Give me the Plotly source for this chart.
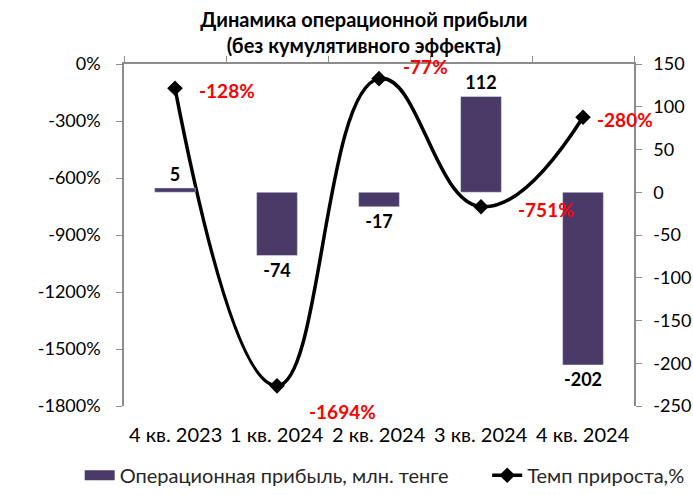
import plotly.graph_objects as go

quarters = ["4 кв. 2023", "1 кв. 2024", "2 кв. 2024", "3 кв. 2024", "4 кв. 2024"]
profit = [5, -74, -17, 112, -202]
growth = [-128, -1694, -77, -751, -280]
growth_labels = ["-128%", "-1694%", "-77%", "-751%", "-280%"]

left_ticks = [0, -300, -600, -900, -1200, -1500, -1800]
left_ticktext = ["0%", "-300%", "-600%", "-900%", "-1200%", "-1500%", "-1800%"]
right_ticks = [150, 100, 50, 0, -50, -100, -150, -200, -250]
right_ticktext = ["150", "100", "50", "0", "-50", "-100", "-150", "-200", "-250"]

FONT = "Lato, 'Open Sans', sans-serif"
BAR_COLOR = "#4a3a68"
AXIS_COLOR = "#8c8c8c"

fig = go.Figure()

# bars on right axis
fig.add_trace(go.Bar(
    x=quarters, y=profit,
    name="Операционная прибыль, млн. тенге",
    marker=dict(color=BAR_COLOR),
    width=0.4,
    yaxis="y2",
    text=[str(v) for v in profit],
    textposition="outside",
    textfont=dict(size=18, color="black", family=FONT, weight="bold"),
    cliponaxis=False,
    showlegend=False,
))

# legend entry for the bars: wide flat swatch like the original
fig.add_trace(go.Scatter(
    x=[None], y=[None], mode="lines",
    name="Операционная прибыль, млн. тенге",
    line=dict(color=BAR_COLOR, width=13),
    legend="legend",
))

# growth line on left axis
fig.add_trace(go.Scatter(
    x=quarters, y=growth,
    name="Темп прироста,%",
    mode="lines+markers",
    line=dict(color="black", width=3.5, shape="spline", smoothing=1.3),
    marker=dict(symbol="diamond", size=12, color="black"),
    yaxis="y",
    cliponaxis=False,
    legend="legend2",
))

# red labels for growth values (left edge offset from the point)
shifts = [(22, -2), (30, -26), (22, 12), (35, -3), (12, -2)]
for q, v, lab, (dx, dy) in zip(quarters, growth, growth_labels, shifts):
    fig.add_annotation(
        x=q, y=v, xref="x", yref="y", xanchor="left",
        text="<b>" + lab + "</b>", showarrow=False,
        xshift=dx, yshift=dy,
        font=dict(size=19, color="#ff0000", family=FONT),
    )

# category labels at the bottom (the category axis line sits on top)
for q in quarters:
    fig.add_annotation(
        x=q, y=0, xref="x", yref="paper", yanchor="top",
        text=q, showarrow=False, yshift=-14,
        font=dict(size=20, color="black", family=FONT),
    )

fig.update_layout(
    width=693, height=495,
    margin=dict(l=124, r=59, t=64, b=89, autoexpand=False),
    paper_bgcolor="white", plot_bgcolor="white",
    font=dict(family=FONT, size=18, color="#262626"),
    title=dict(
        text="<b>Динамика операционной прибыли<br>(без кумулятивного эффекта)</b>",
        x=0.525, xanchor="center", xref="container",
        y=0.946, yanchor="top", yref="container",
        font=dict(size=20, color="black", family=FONT),
    ),
    showlegend=True,
    legend=dict(
        orientation="h", xref="container", yref="container",
        x=0.115, xanchor="left", y=0.04, yanchor="middle",
        font=dict(size=20, color="#262626", family=FONT),
        itemwidth=30,
    ),
    legend2=dict(
        orientation="h", xref="container", yref="container",
        x=0.703, xanchor="left", y=0.04, yanchor="middle",
        font=dict(size=20, color="#262626", family=FONT),
        itemwidth=30,
    ),
    xaxis=dict(
        type="category", side="top", range=[-0.5, 4.5],
        showline=True, linecolor=AXIS_COLOR, linewidth=1.5,
        ticks="outside", tickson="boundaries", ticklen=6, tickcolor=AXIS_COLOR,
        showticklabels=False, showgrid=False,
    ),
    yaxis=dict(
        range=[-1800, 0], tickvals=left_ticks, ticktext=left_ticktext,
        showline=True, linecolor=AXIS_COLOR, linewidth=1.5,
        ticks="outside", ticklen=6, tickcolor=AXIS_COLOR,
        ticklabelstandoff=12,
        showgrid=False, zeroline=False,
        tickfont=dict(size=18, color="black"),
    ),
    yaxis2=dict(
        range=[-250, 150], tickvals=right_ticks, ticktext=right_ticktext,
        overlaying="y", side="right",
        showline=True, linecolor=AXIS_COLOR, linewidth=1.5,
        ticks="outside", ticklen=6, tickcolor=AXIS_COLOR,
        ticklabelstandoff=8,
        showgrid=False, zeroline=False,
        tickfont=dict(size=18, color="black"),
    ),
)

fig.write_html(
    "out.html",
    config={"displayModeBar": False},
    post_script="document.body.style.margin='0';",
)
